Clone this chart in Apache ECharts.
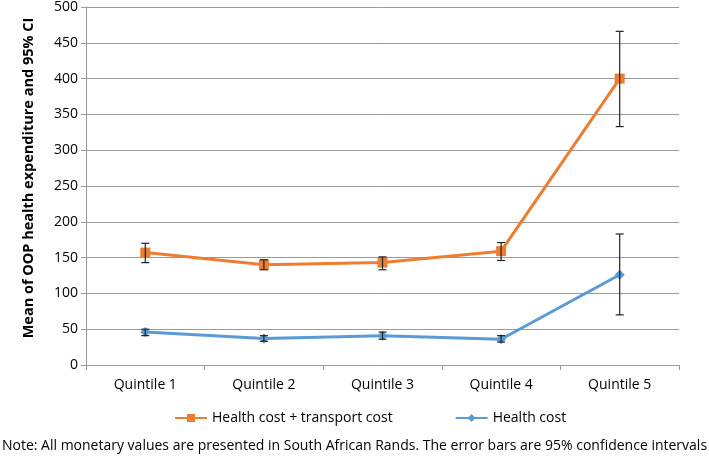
<!DOCTYPE html>
<html>
<head>
<meta charset="utf-8">
<script src="https://cdn.jsdelivr.net/npm/echarts@6/dist/echarts.min.js"></script>
<style>
    html, body { margin: 0; padding: 0; background: #fff; }
    #chart-oop { width: 709px; height: 456px; }
</style>
</head>
<body>
<div id="chart-oop"></div>
<script>
// 数据
var categories = ['Quintile 1', 'Quintile 2', 'Quintile 3', 'Quintile 4', 'Quintile 5']
var transportMean = [157, 140, 143, 159, 400]
var transportLow = [143, 133, 133, 146, 333]
var transportHigh = [170, 147, 151, 171, 466]
var healthMean = [46, 37, 41, 36, 126]
var healthLow = [41, 33, 36, 32, 70]
var healthHigh = [50, 41, 46, 41, 183]
var yTicks = [0, 50, 100, 150, 200, 250, 300, 350, 400, 450, 500]

// 常量
var orange = '#ED7D31'
var blue = '#5B9BD5'
var gridColor = '#9a9a9a'
var textFont = '"Open Sans", "Liberation Sans", sans-serif'

chart_init()

function errData(low, high) {
    var out = []
    for (var i = 0; i < low.length; i++) {
        out.push([i, low[i], high[i]])
    }
    return out
}

// 误差线: 竖线 + 上下短横
function renderErr(params, api) {
    var top = api.coord([api.value(0), api.value(2)])
    var bot = api.coord([api.value(0), api.value(1)])
    var cap = 4
    var style = { stroke: '#222', lineWidth: 1.2 }
    return {
        type: 'group',
        children: [
            { type: 'line', shape: { x1: top[0], y1: top[1], x2: bot[0], y2: bot[1] }, style: style },
            { type: 'line', shape: { x1: top[0] - cap, y1: top[1], x2: top[0] + cap, y2: top[1] }, style: style },
            { type: 'line', shape: { x1: bot[0] - cap, y1: bot[1], x2: bot[0] + cap, y2: bot[1] }, style: style }
        ]
    }
}

function chart_init() {
    var option = {
        animation: false,
        textStyle: { fontFamily: textFont },
        grid: {
            left: 86,
            right: 30,
            top: 5,
            bottom: 91
        },
        legend: {
            left: 169,
            top: 406,
            itemWidth: 32,
            itemHeight: 10,
            itemGap: 62,
            textStyle: { color: '#000', fontSize: 14, fontFamily: textFont },
            data: ['Health cost + transport cost', 'Health cost']
        },
        xAxis: {
            type: 'category',
            data: categories,
            boundaryGap: true,
            axisLine: { lineStyle: { color: gridColor } },
            axisTick: { show: true, length: 5, lineStyle: { color: gridColor } },
            axisLabel: { color: '#000', fontSize: 14, margin: 13 }
        },
        yAxis: {
            type: 'value',
            min: yTicks[0],
            max: yTicks[yTicks.length - 1],
            interval: 50,
            name: 'Mean of OOP health expenditure and 95% CI',
            nameLocation: 'middle',
            nameGap: 50,
            nameTextStyle: { color: '#000', fontSize: 14.5, fontWeight: 'bold', padding: [0, 0, 0, 16] },
            axisLine: { show: true, lineStyle: { color: gridColor } },
            axisTick: { show: true, length: 5, lineStyle: { color: gridColor } },
            axisLabel: { color: '#000', fontSize: 14, margin: 8 },
            splitLine: { lineStyle: { color: gridColor, width: 1 } }
        },
        graphic: [{
            type: 'text',
            left: 'center',
            top: 439,
            style: {
                text: 'Note: All monetary values are presented in South African Rands. The error bars are 95% confidence intervals',
                fill: '#000',
                font: '14px ' + textFont
            }
        }],
        series: [{
            name: 'Health cost + transport cost',
            type: 'line',
            data: transportMean,
            symbol: 'rect',
            symbolSize: 10,
            itemStyle: { color: orange },
            lineStyle: { color: orange, width: 3 },
            z: 3
        }, {
            name: 'Health cost',
            type: 'line',
            data: healthMean,
            symbol: 'diamond',
            symbolSize: 10,
            itemStyle: { color: blue },
            lineStyle: { color: blue, width: 3 },
            z: 3
        }, {
            type: 'custom',
            renderItem: renderErr,
            data: errData(transportLow, transportHigh),
            encode: { x: 0, y: [1, 2] },
            z: 5
        }, {
            type: 'custom',
            renderItem: renderErr,
            data: errData(healthLow, healthHigh),
            encode: { x: 0, y: [1, 2] },
            z: 5
        }]
    }
    var chart = echarts.init(document.getElementById('chart-oop'))
    chart.setOption(option)
    window.addEventListener('resize', function() {
        chart.resize()
    })
}
</script>
</body>
</html>
